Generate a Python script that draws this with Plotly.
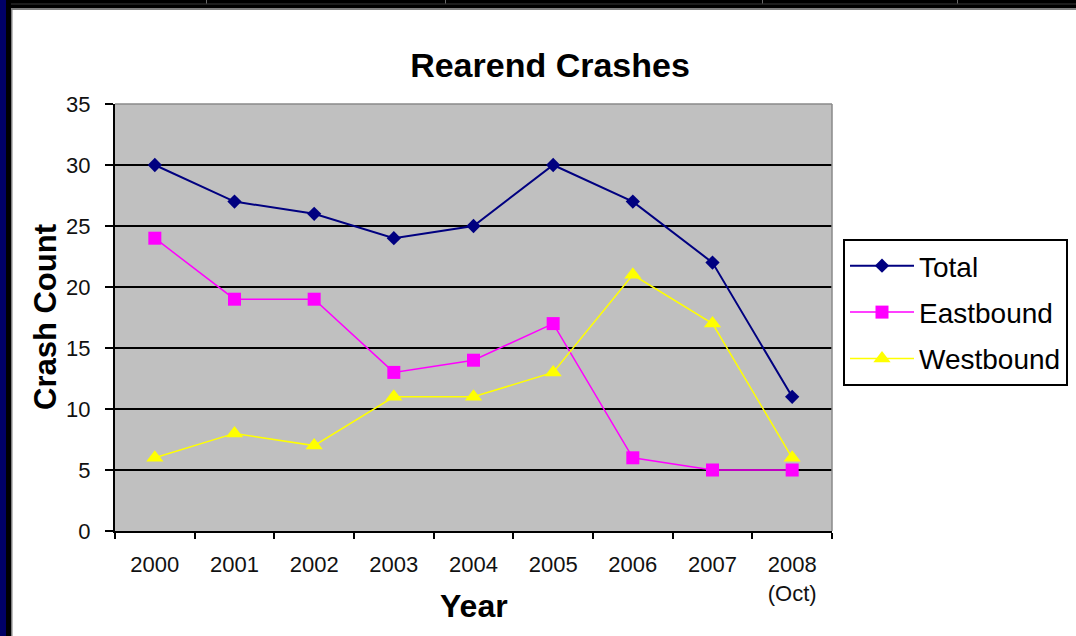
import plotly.graph_objects as go

years = ["2000", "2001", "2002", "2003", "2004", "2005", "2006", "2007", "2008<br>(Oct)"]
total = [30, 27, 26, 24, 25, 30, 27, 22, 11]
eastbound = [24, 19, 19, 13, 14, 17, 6, 5, 5]
westbound = [6, 8, 7, 11, 11, 13, 21, 17, 6]

W, H = 1076, 636
L, R, T, B = 115, 832, 104, 531  # plot area in pixels

def px_x(x):
    return (x - L) / (R - L)

def px_y(y):
    return 1 - (y - T) / (B - T)

FONT = "Liberation Sans, Arial, sans-serif"

fig = go.Figure()
fig.add_trace(go.Scatter(x=years, y=total, name="Total", mode="lines+markers",
                         line=dict(color="#000080", width=2),
                         marker=dict(symbol="diamond", size=11, color="#000080"),
                         legendgroup="a"))
fig.add_trace(go.Scatter(x=years, y=eastbound, name="Eastbound", mode="lines+markers",
                         line=dict(color="#FF00FF", width=1.5),
                         marker=dict(symbol="square", size=13, color="#FF00FF"),
                         legendgroup="b"))
fig.add_trace(go.Scatter(x=years, y=westbound, name="Westbound", mode="lines+markers",
                         line=dict(color="#FFFF00", width=1.5),
                         marker=dict(symbol="triangle-up", size=15, color="#FFFF00"),
                         legendgroup="c"))

shapes = []
# decorative window frame
shapes.append(dict(type="rect", xref="paper", yref="paper", x0=px_x(0), x1=px_x(W), y0=px_y(0), y1=px_y(8),
                   fillcolor="#000000", line=dict(width=0), layer="above"))
shapes.append(dict(type="rect", xref="paper", yref="paper", x0=px_x(0), x1=px_x(W), y0=px_y(3.5), y1=px_y(4.5),
                   fillcolor="#3a3a3a", line=dict(width=0), layer="above"))
shapes.append(dict(type="rect", xref="paper", yref="paper", x0=px_x(0), x1=px_x(W), y0=px_y(8), y1=px_y(10),
                   fillcolor="#808080", line=dict(width=0), layer="above"))
for sx in [206, 445, 762, 957]:
    shapes.append(dict(type="rect", xref="paper", yref="paper", x0=px_x(sx), x1=px_x(sx + 1), y0=px_y(0), y1=px_y(3.5),
                       fillcolor="#6a6a6a", line=dict(width=0), layer="above"))
shapes.append(dict(type="rect", xref="paper", yref="paper", x0=px_x(6), x1=px_x(11), y0=px_y(0), y1=px_y(H),
                   fillcolor="#000000", line=dict(width=0), layer="above"))
shapes.append(dict(type="rect", xref="paper", yref="paper", x0=px_x(11), x1=px_x(12.5), y0=px_y(10), y1=px_y(H),
                   fillcolor="#808080", line=dict(width=0), layer="above"))
shapes.append(dict(type="rect", xref="paper", yref="paper", x0=px_x(0), x1=px_x(6), y0=px_y(0), y1=px_y(H),
                   fillcolor="#000066", line=dict(width=0), layer="above"))
# plot area top/right border
shapes.append(dict(type="line", xref="paper", yref="paper", x0=0, x1=1, y0=1, y1=1,
                   line=dict(color="#8a8a8a", width=1.5), layer="above"))
shapes.append(dict(type="line", xref="paper", yref="paper", x0=1, x1=1, y0=0, y1=1,
                   line=dict(color="#8a8a8a", width=1.5), layer="above"))

annotations = [
    dict(text="<b>Crash Count</b>", xref="paper", yref="paper", x=px_x(45), y=px_y(317),
         xanchor="center", yanchor="middle", textangle=-90, showarrow=False,
         font=dict(family=FONT, size=31, color="#000000")),
    dict(text="<b>Year</b>", xref="paper", yref="paper", x=px_x(474), y=px_y(606),
         xanchor="center", yanchor="middle", showarrow=False,
         font=dict(family=FONT, size=32, color="#000000")),
]

fig.update_layout(
    width=W, height=H,
    margin=dict(l=L, r=W - R, t=T, b=H - B, autoexpand=False),
    paper_bgcolor="#FFFFFF",
    plot_bgcolor="#C0C0C0",
    title=dict(text="<b>Rearend Crashes</b>", x=550 / W, y=1 - 65 / H, xref="container", yref="container",
               xanchor="center", yanchor="middle", font=dict(family=FONT, size=34, color="#000000")),
    xaxis=dict(type="category", range=[-0.5, 8.5], tickson="boundaries", ticks="outside", ticklen=6,
               tickwidth=2, tickcolor="#000000", showline=True, linecolor="#000000", linewidth=2,
               showgrid=False, ticklabelstandoff=13,
               tickfont=dict(family=FONT, size=22, color="#111111")),
    yaxis=dict(range=[0, 35], dtick=5, tick0=0, ticks="outside", ticklen=8, tickwidth=2,
               tickcolor="#000000", showline=True, linecolor="#000000", linewidth=2,
               showgrid=True, gridcolor="#000000", gridwidth=2, zeroline=False,
               ticklabelstandoff=10,
               tickfont=dict(family=FONT, size=22, color="#111111")),
    legend=dict(x=px_x(843), y=px_y(239), xanchor="left", yanchor="top",
                bgcolor="#FFFFFF", bordercolor="#000000", borderwidth=2,
                font=dict(family=FONT, size=28, color="#000000"),
                tracegroupgap=7, traceorder="grouped", itemwidth=64),
    shapes=shapes,
    annotations=annotations,
    showlegend=True,
)

fig.write_html("out.html")
